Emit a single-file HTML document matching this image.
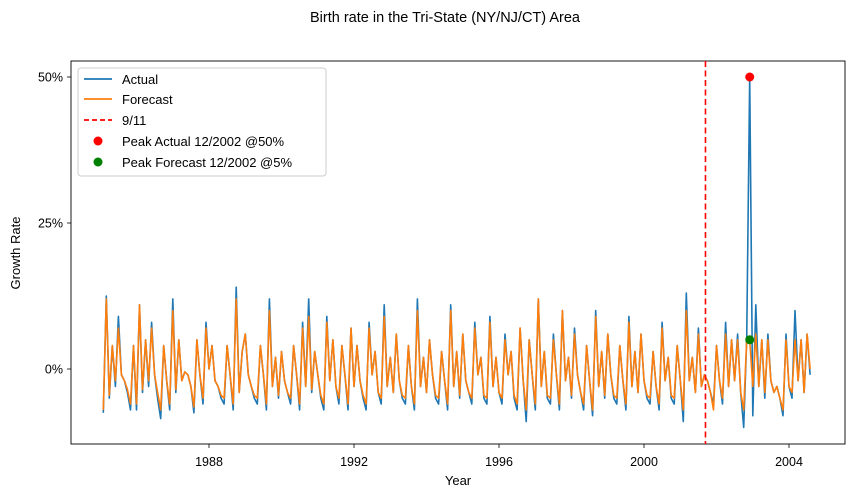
<!DOCTYPE html>
<html><head><meta charset="utf-8"><style>
body{margin:0;background:#fff;font-family:"Liberation Sans","DejaVu Sans",sans-serif}
svg text{font-family:"Liberation Sans","DejaVu Sans",sans-serif;fill:#000}
</style></head><body>
<svg id="c" width="855" height="498" viewBox="0 0 855 498" xmlns="http://www.w3.org/2000/svg">
<text x="445" y="22" font-size="14.5" text-anchor="middle">Birth rate in the Tri-State (NY/NJ/CT) Area</text>
<rect x="71" y="61" width="774" height="383" fill="none" stroke="#000" stroke-width="0.9"/>
<g id="ticks"></g>
<g id="series"></g>
<text x="458" y="485" font-size="13" text-anchor="middle">Year</text>
<text x="20" y="253" font-size="13" text-anchor="middle" transform="rotate(-90 20 253)">Growth Rate</text>
<g>
<rect x="78" y="68" width="248" height="108" rx="3" fill="#fff" fill-opacity="0.8" stroke="#ccc"/>
<line x1="84" y1="79" x2="112" y2="79" stroke="#1f77b4" stroke-width="1.8"/>
<text x="122" y="84" font-size="13">Actual</text>
<line x1="84" y1="99" x2="112" y2="99" stroke="#ff7f0e" stroke-width="1.8"/>
<text x="122" y="104" font-size="13">Forecast</text>
<line x1="84" y1="120" x2="112" y2="120" stroke="red" stroke-width="1.8" stroke-dasharray="5,3"/>
<text x="122" y="125" font-size="13">9/11</text>
<circle cx="98" cy="141" r="4.5" fill="red"/>
<text x="122" y="146" font-size="13">Peak Actual 12/2002 @50%</text>
<circle cx="98" cy="162" r="4.5" fill="green"/>
<text x="122" y="167" font-size="13">Peak Forecast 12/2002 @5%</text>
</g>
</svg>
<script>
const startYear = 1985 + 1/12;
const actual = [
-7.5,12.5,-5,4,-3,9,-1,-2,-4,-7,4,
-7,11,-4,5,-3,8,-1,-5,-8.5,4,-2,-7,
12,-4,5,-2,-0.5,-1,-3,-7.5,5,-1,-6,8,
0,4,-2,-3,-5,-6,4,-1,-7,14,-4,3,
6,-1,-3,-5,-6,4,-1,-7,12,-3,2,-5,
3,-2,-4,-6,4,-1,-7,8,-3,12,-4,3,
-1,-5,-7,9,-2,5,-3,-6,4,-1,-7,7,
-3,4,-2,-5,-7,8,-1,3,-4,-6,11,-3,
2,-4,6,-2,-5,-6,4,-3,-7,12,-3,2,
-4,5,-1,-5,-6,3,-2,-7,11,-3,3,-5,
6,-2,-4,-6,8,-1,2,-5,-6,9,-3,2,
-4,-6,6,-1,3,-5,-7,7,-2,-9,5,-1,
-7,12,-3,3,-5,-6,6,-1,-7,10,-2,2,
-5,7,-1,-4,-7,4,-2,-8,10,-3,3,-5,
6,-1,-5,-6,4,-2,-7,9,-3,3,-4,6,
-2,-5,-6,3,-3,-7,8,-2,2,-5,-6,4,
-2,-9,13,-2,2,-4,7,-3,-1,-2,-4,-6,
4,-2,-6,8,-3,5,-2,6,-4,-10,5,50,
-8,11,-3,5,-5,6,-2,-4,-3,-5,-8,6,
-3,-5,10,-2,5,-4,6,-1];
const forecast = [
-7,12,-4.5,4,-2,7,-1,-2,-3.5,-6,4,
-6,11,-3.5,5,-2,7,-1,-4,-7,4,-2,-6,
10,-3.5,5,-2,-0.5,-1,-3,-6.5,5,-1,-5,7,
0,4,-2,-3,-4.5,-5,4,-1,-6,12,-4,3,
6,-1,-3,-4.5,-5,4,-1,-6,10,-3,2,-4.5,
3,-2,-4,-5,4,-1,-6,7,-3,9,-3.5,3,
-1,-4.5,-6,8,-2,5,-3,-5,4,-1,-6,7,
-3,4,-2,-4.5,-6,7,-1,3,-4,-5,9,-3,
2,-4,6,-2,-4.5,-5,4,-3,-6,10,-3,2,
-4,5,-1,-4.5,-5,3,-2,-6,10,-3,3,-4.5,
6,-2,-4,-5,7,-1,2,-4.5,-5,8,-3,2,
-4,-5,5,-1,3,-4.5,-6,7,-2,-7,5,-1,
-6,12,-3,3,-4.5,-5,5,-1,-6,10,-2,2,
-4.5,6,-1,-4,-6,4,-2,-7,9,-3,3,-4.5,
6,-1,-4.5,-5,4,-2,-6,8,-3,3,-4,6,
-2,-4.5,-5,3,-3,-6,7,-2,2,-4.5,-5,4,
-2,-7,10,-2,2,-4,6,-3,-1,-2,-4,-7,
4,-2,-5,6,-3,5,-2,5,-4,-7,5,5,
-3,6,-3,5,-4,5,-2,-4,-3,-5,-7,5,
-3,-4,5,-2,5,-4,6,0];
const xTicks = [1988, 1992, 1996, 2000, 2004];
const yTicks = [0, 25, 50];
const eventYear = 2001 + 8.35/12;

const X0 = 209, PXY = 36.25;
function xs(t){ return X0 + (t - 1988) * PXY; }
function ys(v){ return 369 - v * 5.84; }
const NS = 'http://www.w3.org/2000/svg';
function mk(tag, attrs, parent){
  const e = document.createElementNS(NS, tag);
  for (const k in attrs) e.setAttribute(k, attrs[k]);
  parent.appendChild(e); return e;
}
const tg = document.getElementById('ticks');
xTicks.forEach(t => {
  const l = mk('line', {x1: xs(t), x2: xs(t), y1: 444, y2: 448, stroke: '#000', 'stroke-width': 0.8}, tg);
  
  
  const tx = mk('text', {x: xs(t), y: 466, 'font-size': 12.5, 'text-anchor': 'middle'}, tg);
  tx.textContent = t;
  
  
});
yTicks.forEach(v => {
  const l = mk('line', {x1: 67, x2: 71, y1: ys(v), y2: ys(v), stroke: '#000', 'stroke-width': 0.8}, tg);
  
  
  const tx = mk('text', {x: 63, y: ys(v) + 4.5, 'font-size': 12.5, 'text-anchor': 'end'}, tg);
  tx.textContent = v + '%';
  
  
});
const sg = document.getElementById('series');
function pts(arr){ return arr.map((v, i) => xs(startYear + i/12).toFixed(1) + ',' + ys(v).toFixed(1)).join(' '); }
const la = mk('polyline', {points: pts(actual), fill: 'none', stroke: '#1f77b4', 'stroke-width': 1.6, 'stroke-linejoin': 'round'}, sg);


const lf = mk('polyline', {points: pts(forecast), fill: 'none', stroke: '#ff7f0e', 'stroke-width': 1.6, 'stroke-linejoin': 'round'}, sg);


const ev = mk('line', {x1: xs(eventYear), x2: xs(eventYear), y1: 61, y2: 444, stroke: 'red', 'stroke-width': 1.6, 'stroke-dasharray': '6,3.5'}, sg);


let ia = 0; actual.forEach((v, i) => { if (v > actual[ia]) ia = i; });
const pa = mk('circle', {cx: xs(startYear + ia/12), cy: ys(actual[ia]), r: 4.5, fill: 'red'}, sg);


const pf = mk('circle', {cx: xs(startYear + ia/12), cy: ys(forecast[ia]), r: 4.5, fill: 'green'}, sg);


</script>
</body></html>
